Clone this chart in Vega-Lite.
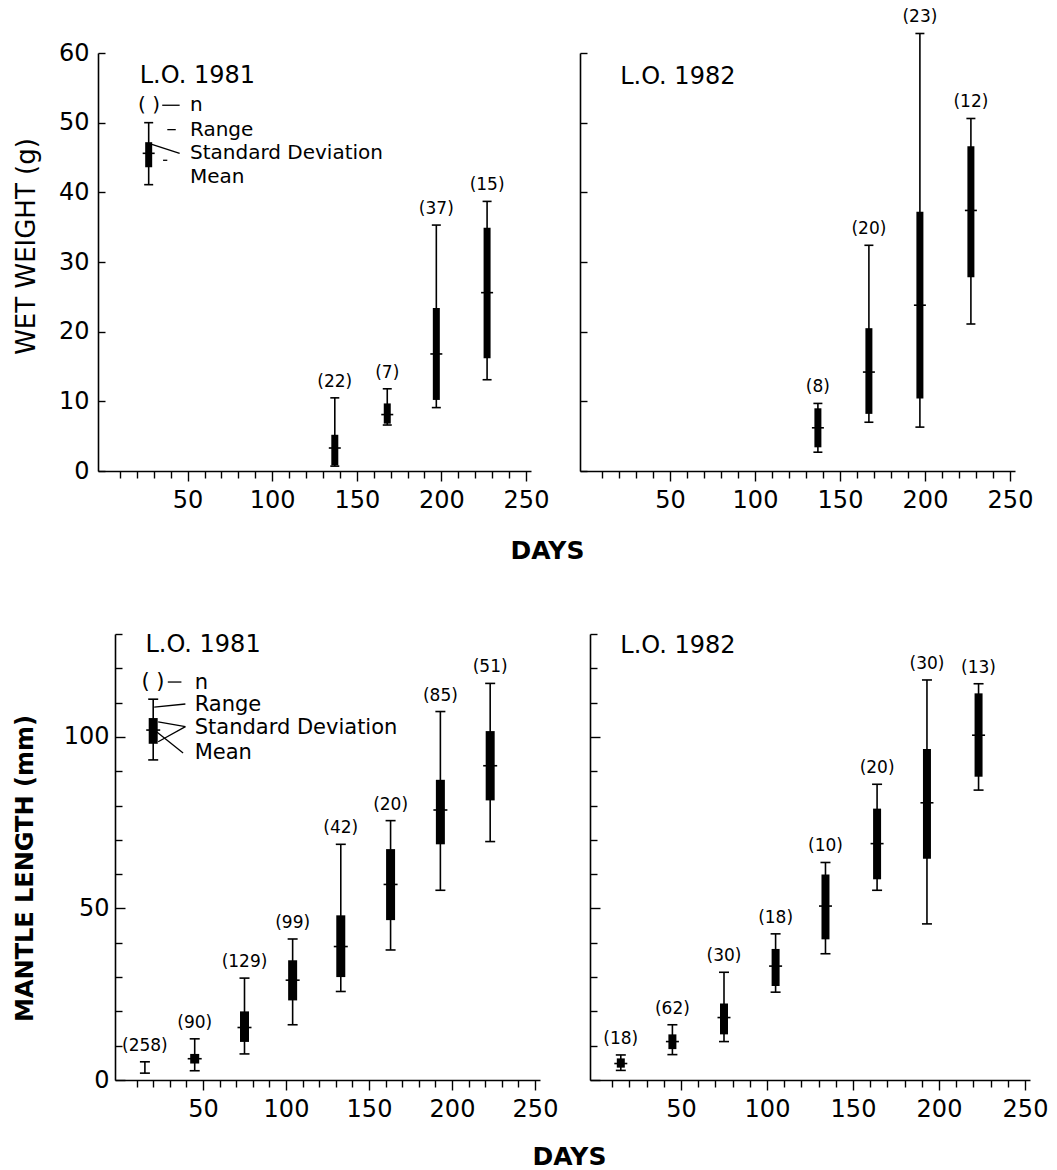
{
  "$schema": "https://vega.github.io/schema/vega-lite/v6.json",
  "background": "white",
  "padding": {"left": 12, "top": 8, "right": 4, "bottom": 2},
  "config": {
    "view": {"stroke": null},
    "font": "DejaVu Sans",
    "axis": {"grid": false, "domainColor": "black", "tickColor": "black", "labelColor": "black", "titleColor": "black", "labelFont": "DejaVu Sans", "titleFont": "DejaVu Sans", "domainWidth": 1.6, "tickWidth": 1.4, "labelFlush": false, "labelOverlap": false, "labelBound": false},
    "text": {"font": "DejaVu Sans", "color": "black"}
  },
  "datasets": {
    "stats": [
      {"p": "W81", "day": 27, "lo": 41.1, "hi": 50.0, "sdlo": 43.6, "sdhi": 47.2, "mean": 45.6, "n": ""},
      {"p": "W81", "day": 137, "lo": 0.7, "hi": 10.5, "sdlo": 0.8, "sdhi": 5.2, "mean": 3.3, "n": "(22)"},
      {"p": "W81", "day": 168, "lo": 6.6, "hi": 11.8, "sdlo": 6.8, "sdhi": 9.7, "mean": 8.1, "n": "(7)"},
      {"p": "W81", "day": 197, "lo": 9.1, "hi": 35.3, "sdlo": 10.2, "sdhi": 23.4, "mean": 16.8, "n": "(37)"},
      {"p": "W81", "day": 227, "lo": 13.1, "hi": 38.7, "sdlo": 16.2, "sdhi": 34.9, "mean": 25.6, "n": "(15)"},
      {"p": "W82", "day": 137, "lo": 2.7, "hi": 9.7, "sdlo": 3.4, "sdhi": 9.0, "mean": 6.2, "n": "(8)"},
      {"p": "W82", "day": 167, "lo": 7.0, "hi": 32.4, "sdlo": 8.2, "sdhi": 20.5, "mean": 14.2, "n": "(20)"},
      {"p": "W82", "day": 197, "lo": 6.3, "hi": 62.8, "sdlo": 10.4, "sdhi": 37.2, "mean": 23.8, "n": "(23)"},
      {"p": "W82", "day": 227, "lo": 21.1, "hi": 50.6, "sdlo": 27.8, "sdhi": 46.6, "mean": 37.4, "n": "(12)"},
      {"p": "M81", "day": 20, "lo": 93.3, "hi": 111.0, "sdlo": 98.0, "sdhi": 105.5, "mean": 102.0, "n": ""},
      {"p": "M81", "day": 15, "lo": 2.0, "hi": 5.3, "sdlo": null, "sdhi": null, "mean": null, "n": "(258)"},
      {"p": "M81", "day": 45, "lo": 2.7, "hi": 12.0, "sdlo": 4.8, "sdhi": 7.6, "mean": 6.2, "n": "(90)"},
      {"p": "M81", "day": 75, "lo": 7.6, "hi": 29.7, "sdlo": 11.1, "sdhi": 20.0, "mean": 15.3, "n": "(129)"},
      {"p": "M81", "day": 104, "lo": 16.1, "hi": 41.1, "sdlo": 23.2, "sdhi": 34.9, "mean": 29.1, "n": "(99)"},
      {"p": "M81", "day": 133, "lo": 25.8, "hi": 68.7, "sdlo": 30.0, "sdhi": 48.0, "mean": 38.9, "n": "(42)"},
      {"p": "M81", "day": 163, "lo": 37.9, "hi": 75.6, "sdlo": 46.6, "sdhi": 67.3, "mean": 57.0, "n": "(20)"},
      {"p": "M81", "day": 193, "lo": 55.3, "hi": 107.4, "sdlo": 68.7, "sdhi": 87.5, "mean": 78.7, "n": "(85)"},
      {"p": "M81", "day": 223, "lo": 69.5, "hi": 115.6, "sdlo": 81.5, "sdhi": 101.7, "mean": 91.6, "n": "(51)"},
      {"p": "M82", "day": 15, "lo": 2.8, "hi": 7.3, "sdlo": 3.6, "sdhi": 6.3, "mean": 4.8, "n": "(18)"},
      {"p": "M82", "day": 45, "lo": 7.4, "hi": 16.1, "sdlo": 9.0, "sdhi": 13.3, "mean": 11.2, "n": "(62)"},
      {"p": "M82", "day": 75, "lo": 11.2, "hi": 31.4, "sdlo": 13.3, "sdhi": 22.3, "mean": 18.2, "n": "(30)"},
      {"p": "M82", "day": 105, "lo": 25.6, "hi": 42.6, "sdlo": 27.4, "sdhi": 38.2, "mean": 33.2, "n": "(18)"},
      {"p": "M82", "day": 134, "lo": 36.8, "hi": 63.4, "sdlo": 41.0, "sdhi": 59.9, "mean": 50.7, "n": "(10)"},
      {"p": "M82", "day": 164, "lo": 55.3, "hi": 86.2, "sdlo": 58.5, "sdhi": 79.1, "mean": 68.9, "n": "(20)"},
      {"p": "M82", "day": 193, "lo": 45.5, "hi": 116.6, "sdlo": 64.5, "sdhi": 96.5, "mean": 80.8, "n": "(30)"},
      {"p": "M82", "day": 223, "lo": 84.5, "hi": 115.5, "sdlo": 88.4, "sdhi": 112.7, "mean": 100.5, "n": "(13)"}
    ],
    "notes": [
      {"p": "W81", "kind": "title", "day": 21.7, "val": 55.7, "text": "L.O. 1981"},
      {"p": "W81", "kind": "key", "day": 20.7, "val": 52.5, "text": "(   )"},
      {"p": "W81", "kind": "key", "day": 51.4, "val": 52.5, "text": "n"},
      {"p": "W81", "kind": "key", "day": 51.4, "val": 49.0, "text": "Range"},
      {"p": "W81", "kind": "key", "day": 51.4, "val": 45.6, "text": "Standard Deviation"},
      {"p": "W81", "kind": "key", "day": 51.4, "val": 42.2, "text": "Mean"},
      {"p": "W82", "kind": "title", "day": 20.7, "val": 55.6, "text": "L.O. 1982"},
      {"p": "M81", "kind": "title", "day": 15.3, "val": 124.7, "text": "L.O. 1981"},
      {"p": "M81", "kind": "key", "day": 12.9, "val": 116.0, "text": "(   )"},
      {"p": "M81", "kind": "key", "day": 45, "val": 115.7, "text": "n"},
      {"p": "M81", "kind": "key", "day": 45, "val": 109.4, "text": "Range"},
      {"p": "M81", "kind": "key", "day": 45, "val": 102.7, "text": "Standard Deviation"},
      {"p": "M81", "kind": "key", "day": 45, "val": 95.3, "text": "Mean"},
      {"p": "M82", "kind": "title", "day": 14.7, "val": 124.6, "text": "L.O. 1982"}
    ],
    "leaders": [
      {"p": "W81", "d1": 35, "v1": 52.5, "d2": 45.3, "v2": 52.5},
      {"p": "W81", "d1": 38, "v1": 49, "d2": 43, "v2": 49},
      {"p": "W81", "d1": 28.9, "v1": 46.9, "d2": 45.3, "v2": 45.6},
      {"p": "W81", "d1": 35.5, "v1": 44.6, "d2": 38, "v2": 44.6},
      {"p": "M81", "d1": 28.8, "v1": 116, "d2": 37, "v2": 116},
      {"p": "M81", "d1": 20.6, "v1": 108.7, "d2": 39.4, "v2": 109.6},
      {"p": "M81", "d1": 23, "v1": 104.4, "d2": 39.4, "v2": 103},
      {"p": "M81", "d1": 23, "v1": 98.6, "d2": 39.4, "v2": 103},
      {"p": "M81", "d1": 22, "v1": 101.5, "d2": 38, "v2": 95.3}
    ]
  },
  "spacing": 59,
  "vconcat": [
    {
      "bounds": "flush",
      "spacing": 49,
      "hconcat": [
        {
          "width": 433, "height": 418,
          "data": {"name": "stats"},
          "transform": [{"filter": "datum.p === 'W81'"}],
          "resolve": {"axis": {"x": "independent", "y": "independent"}},
          "layer": [
            {"mark": {"type": "rule", "color": "black", "strokeWidth": 1.6},
             "encoding": {
               "x": {"field": "day", "type": "quantitative", "scale": {"domain": [0, 250], "nice": false, "zero": false},
                 "axis": {"values": [10,20,30,40,50,60,70,80,90,100,110,120,130,140,150,160,170,180,190,200,210,220,230,240,250],
                   "labelExpr": "datum.value % 50 === 0 ? datum.label : ''",
                   "tickSize": {"condition": {"test": "datum.value % 50 === 0", "value": 10}, "value": 7},
                   "labelFontSize": 24, "labelPadding": 7,
                   "title": "DAYS", "titleFontSize": 25, "titleFontWeight": "bold", "titleX": 449, "titleY": 87, "titleBaseline": "alphabetic", "titleAlign": "center"}},
               "y": {"field": "lo", "type": "quantitative", "scale": {"domain": [0, 60], "nice": false, "zero": false},
                 "axis": {"values": [0,10,20,30,40,50,60], "tickSize": -7, "labelFontSize": 24, "labelPadding": 16,
                   "title": "WET WEIGHT (g)", "titleFontSize": 26, "titleFontWeight": "normal", "titleX": -72, "titleY": 193, "titleAngle": -90, "titleBaseline": "middle", "titleAlign": "center"}},
               "y2": {"field": "hi"}}},
            {"mark": {"type": "tick", "orient": "horizontal", "size": 9, "thickness": 1.6, "color": "black", "opacity": 1},
             "encoding": {"x": {"field": "day", "type": "quantitative", "scale": {"domain": [0, 250], "nice": false, "zero": false}, "axis": null},
               "y": {"field": "hi", "type": "quantitative", "scale": {"domain": [0, 60], "nice": false, "zero": false}, "axis": null}}},
            {"mark": {"type": "tick", "orient": "horizontal", "size": 9, "thickness": 1.6, "color": "black", "opacity": 1},
             "encoding": {"x": {"field": "day", "type": "quantitative", "scale": {"domain": [0, 250], "nice": false, "zero": false}, "axis": null},
               "y": {"field": "lo", "type": "quantitative", "scale": {"domain": [0, 60], "nice": false, "zero": false}, "axis": null}}},
            {"mark": {"type": "bar", "size": 7, "color": "black", "opacity": 1},
             "encoding": {"x": {"field": "day", "type": "quantitative", "scale": {"domain": [0, 250], "nice": false, "zero": false}, "axis": null},
               "y": {"field": "sdlo", "type": "quantitative", "scale": {"domain": [0, 60], "nice": false, "zero": false}, "axis": null},
               "y2": {"field": "sdhi"}}},
            {"mark": {"type": "tick", "orient": "horizontal", "size": 12, "thickness": 1.6, "color": "black", "opacity": 1},
             "encoding": {"x": {"field": "day", "type": "quantitative", "scale": {"domain": [0, 250], "nice": false, "zero": false}, "axis": null},
               "y": {"field": "mean", "type": "quantitative", "scale": {"domain": [0, 60], "nice": false, "zero": false}, "axis": null}}},
            {"mark": {"type": "text", "baseline": "alphabetic", "align": "center", "dy": -11, "fontSize": 17},
             "encoding": {"x": {"field": "day", "type": "quantitative", "scale": {"domain": [0, 250], "nice": false, "zero": false}, "axis": null},
               "y": {"field": "hi", "type": "quantitative", "scale": {"domain": [0, 60], "nice": false, "zero": false}, "axis": null},
               "text": {"field": "n"}}},
            {"data": {"name": "notes"}, "transform": [{"filter": "datum.p === 'W81' && datum.kind === 'title'"}],
             "mark": {"type": "text", "align": "left", "baseline": "alphabetic", "fontSize": 24},
             "encoding": {"x": {"field": "day", "type": "quantitative", "scale": {"domain": [0, 250], "nice": false, "zero": false}, "axis": null},
               "y": {"field": "val", "type": "quantitative", "scale": {"domain": [0, 60], "nice": false, "zero": false}, "axis": null},
               "text": {"field": "text"}}},
            {"data": {"name": "notes"}, "transform": [{"filter": "datum.p === 'W81' && datum.kind === 'key'"}],
             "mark": {"type": "text", "align": "left", "baseline": "middle", "fontSize": 20},
             "encoding": {"x": {"field": "day", "type": "quantitative", "scale": {"domain": [0, 250], "nice": false, "zero": false}, "axis": null},
               "y": {"field": "val", "type": "quantitative", "scale": {"domain": [0, 60], "nice": false, "zero": false}, "axis": null},
               "text": {"field": "text"}}},
            {"data": {"name": "leaders"}, "transform": [{"filter": "datum.p === 'W81'"}],
             "mark": {"type": "rule", "color": "black", "strokeWidth": 1.3},
             "encoding": {"x": {"field": "d1", "type": "quantitative", "scale": {"domain": [0, 250], "nice": false, "zero": false}, "axis": null},
               "x2": {"field": "d2"},
               "y": {"field": "v1", "type": "quantitative", "scale": {"domain": [0, 60], "nice": false, "zero": false}, "axis": null},
               "y2": {"field": "v2"}}}
          ]
        },
        {
          "width": 435, "height": 418,
          "data": {"name": "stats"},
          "transform": [{"filter": "datum.p === 'W82'"}],
          "resolve": {"axis": {"x": "independent", "y": "independent"}},
          "layer": [
            {"mark": {"type": "rule", "color": "black", "strokeWidth": 1.6},
             "encoding": {
               "x": {"field": "day", "type": "quantitative", "scale": {"domain": [0, 250], "nice": false, "zero": false},
                 "axis": {"values": [10,20,30,40,50,60,70,80,90,100,110,120,130,140,150,160,170,180,190,200,210,220,230,240,250],
                   "labelExpr": "datum.value % 50 === 0 ? datum.label : ''",
                   "tickSize": {"condition": {"test": "datum.value % 50 === 0", "value": 10}, "value": 7},
                   "labelFontSize": 24, "labelPadding": 7, "title": null}},
               "y": {"field": "lo", "type": "quantitative", "scale": {"domain": [0, 60], "nice": false, "zero": false},
                 "axis": {"values": [0,10,20,30,40,50,60], "tickSize": -7, "labels": false, "title": null}},
               "y2": {"field": "hi"}}},
            {"mark": {"type": "tick", "orient": "horizontal", "size": 9, "thickness": 1.6, "color": "black", "opacity": 1},
             "encoding": {"x": {"field": "day", "type": "quantitative", "scale": {"domain": [0, 250], "nice": false, "zero": false}, "axis": null},
               "y": {"field": "hi", "type": "quantitative", "scale": {"domain": [0, 60], "nice": false, "zero": false}, "axis": null}}},
            {"mark": {"type": "tick", "orient": "horizontal", "size": 9, "thickness": 1.6, "color": "black", "opacity": 1},
             "encoding": {"x": {"field": "day", "type": "quantitative", "scale": {"domain": [0, 250], "nice": false, "zero": false}, "axis": null},
               "y": {"field": "lo", "type": "quantitative", "scale": {"domain": [0, 60], "nice": false, "zero": false}, "axis": null}}},
            {"mark": {"type": "bar", "size": 7, "color": "black", "opacity": 1},
             "encoding": {"x": {"field": "day", "type": "quantitative", "scale": {"domain": [0, 250], "nice": false, "zero": false}, "axis": null},
               "y": {"field": "sdlo", "type": "quantitative", "scale": {"domain": [0, 60], "nice": false, "zero": false}, "axis": null},
               "y2": {"field": "sdhi"}}},
            {"mark": {"type": "tick", "orient": "horizontal", "size": 12, "thickness": 1.6, "color": "black", "opacity": 1},
             "encoding": {"x": {"field": "day", "type": "quantitative", "scale": {"domain": [0, 250], "nice": false, "zero": false}, "axis": null},
               "y": {"field": "mean", "type": "quantitative", "scale": {"domain": [0, 60], "nice": false, "zero": false}, "axis": null}}},
            {"mark": {"type": "text", "baseline": "alphabetic", "align": "center", "dy": -11, "fontSize": 17},
             "encoding": {"x": {"field": "day", "type": "quantitative", "scale": {"domain": [0, 250], "nice": false, "zero": false}, "axis": null},
               "y": {"field": "hi", "type": "quantitative", "scale": {"domain": [0, 60], "nice": false, "zero": false}, "axis": null},
               "text": {"field": "n"}}},
            {"data": {"name": "notes"}, "transform": [{"filter": "datum.p === 'W82' && datum.kind === 'title'"}],
             "mark": {"type": "text", "align": "left", "baseline": "alphabetic", "fontSize": 24},
             "encoding": {"x": {"field": "day", "type": "quantitative", "scale": {"domain": [0, 250], "nice": false, "zero": false}, "axis": null},
               "y": {"field": "val", "type": "quantitative", "scale": {"domain": [0, 60], "nice": false, "zero": false}, "axis": null},
               "text": {"field": "text"}}}
          ]
        }
      ]
    },
    {
      "bounds": "flush",
      "spacing": 50,
      "hconcat": [
        {
          "width": 442, "height": 446,
          "data": {"name": "stats"},
          "transform": [{"filter": "datum.p === 'M81'"}],
          "resolve": {"axis": {"x": "independent", "y": "independent"}},
          "layer": [
            {"mark": {"type": "rule", "color": "black", "strokeWidth": 1.6},
             "encoding": {
               "x": {"field": "day", "type": "quantitative", "scale": {"domain": [0, 250], "range": [17, 442], "nice": false, "zero": false},
                 "axis": {"values": [10,20,30,40,50,60,70,80,90,100,110,120,130,140,150,160,170,180,190,200,210,220,230,240,250],
                   "labelExpr": "datum.value % 50 === 0 ? datum.label : ''",
                   "tickSize": {"condition": {"test": "datum.value % 50 === 0", "value": 10}, "value": 7},
                   "labelFontSize": 24, "labelPadding": 7,
                   "title": "DAYS", "titleFontSize": 25, "titleFontWeight": "bold", "titleX": 471, "titleY": 84, "titleBaseline": "alphabetic", "titleAlign": "center"}},
               "y": {"field": "lo", "type": "quantitative", "scale": {"domain": [0, 130], "nice": false, "zero": false},
                 "axis": {"values": [0,10,20,30,40,50,60,70,80,90,100,110,120,130], "offset": -17,
                   "labelExpr": "datum.value % 50 === 0 ? datum.label : ''",
                   "tickSize": {"condition": {"test": "datum.value % 50 === 0", "value": -10}, "value": -7},
                   "labelFontSize": 24, "labelPadding": 16,
                   "title": "MANTLE LENGTH (mm)", "titleFontSize": 24, "titleFontWeight": "bold", "titleX": -90, "titleY": 234, "titleAngle": -90, "titleBaseline": "middle", "titleAlign": "center"}},
               "y2": {"field": "hi"}}},
            {"mark": {"type": "tick", "orient": "horizontal", "size": 10, "thickness": 1.6, "color": "black", "opacity": 1},
             "encoding": {"x": {"field": "day", "type": "quantitative", "scale": {"domain": [0, 250], "range": [17, 442], "nice": false, "zero": false}, "axis": null},
               "y": {"field": "hi", "type": "quantitative", "scale": {"domain": [0, 130], "nice": false, "zero": false}, "axis": null}}},
            {"mark": {"type": "tick", "orient": "horizontal", "size": 10, "thickness": 1.6, "color": "black", "opacity": 1},
             "encoding": {"x": {"field": "day", "type": "quantitative", "scale": {"domain": [0, 250], "range": [17, 442], "nice": false, "zero": false}, "axis": null},
               "y": {"field": "lo", "type": "quantitative", "scale": {"domain": [0, 130], "nice": false, "zero": false}, "axis": null}}},
            {"mark": {"type": "bar", "size": 9, "color": "black", "opacity": 1},
             "encoding": {"x": {"field": "day", "type": "quantitative", "scale": {"domain": [0, 250], "range": [17, 442], "nice": false, "zero": false}, "axis": null},
               "y": {"field": "sdlo", "type": "quantitative", "scale": {"domain": [0, 130], "nice": false, "zero": false}, "axis": null},
               "y2": {"field": "sdhi"}}},
            {"mark": {"type": "tick", "orient": "horizontal", "size": 14, "thickness": 1.6, "color": "black", "opacity": 1},
             "encoding": {"x": {"field": "day", "type": "quantitative", "scale": {"domain": [0, 250], "range": [17, 442], "nice": false, "zero": false}, "axis": null},
               "y": {"field": "mean", "type": "quantitative", "scale": {"domain": [0, 130], "nice": false, "zero": false}, "axis": null}}},
            {"mark": {"type": "text", "baseline": "alphabetic", "align": "center", "dy": -11, "fontSize": 17},
             "encoding": {"x": {"field": "day", "type": "quantitative", "scale": {"domain": [0, 250], "range": [17, 442], "nice": false, "zero": false}, "axis": null},
               "y": {"field": "hi", "type": "quantitative", "scale": {"domain": [0, 130], "nice": false, "zero": false}, "axis": null},
               "text": {"field": "n"}}},
            {"data": {"name": "notes"}, "transform": [{"filter": "datum.p === 'M81' && datum.kind === 'title'"}],
             "mark": {"type": "text", "align": "left", "baseline": "alphabetic", "fontSize": 24},
             "encoding": {"x": {"field": "day", "type": "quantitative", "scale": {"domain": [0, 250], "range": [17, 442], "nice": false, "zero": false}, "axis": null},
               "y": {"field": "val", "type": "quantitative", "scale": {"domain": [0, 130], "nice": false, "zero": false}, "axis": null},
               "text": {"field": "text"}}},
            {"data": {"name": "notes"}, "transform": [{"filter": "datum.p === 'M81' && datum.kind === 'key'"}],
             "mark": {"type": "text", "align": "left", "baseline": "middle", "fontSize": 21},
             "encoding": {"x": {"field": "day", "type": "quantitative", "scale": {"domain": [0, 250], "range": [17, 442], "nice": false, "zero": false}, "axis": null},
               "y": {"field": "val", "type": "quantitative", "scale": {"domain": [0, 130], "nice": false, "zero": false}, "axis": null},
               "text": {"field": "text"}}},
            {"data": {"name": "leaders"}, "transform": [{"filter": "datum.p === 'M81'"}],
             "mark": {"type": "rule", "color": "black", "strokeWidth": 1.3},
             "encoding": {"x": {"field": "d1", "type": "quantitative", "scale": {"domain": [0, 250], "range": [17, 442], "nice": false, "zero": false}, "axis": null},
               "x2": {"field": "d2"},
               "y": {"field": "v1", "type": "quantitative", "scale": {"domain": [0, 130], "nice": false, "zero": false}, "axis": null},
               "y2": {"field": "v2"}}}
          ]
        },
        {
          "width": 440, "height": 446,
          "data": {"name": "stats"},
          "transform": [{"filter": "datum.p === 'M82'"}],
          "resolve": {"axis": {"x": "independent", "y": "independent"}},
          "layer": [
            {"mark": {"type": "rule", "color": "black", "strokeWidth": 1.6},
             "encoding": {
               "x": {"field": "day", "type": "quantitative", "scale": {"domain": [0, 250], "nice": false, "zero": false},
                 "axis": {"values": [10,20,30,40,50,60,70,80,90,100,110,120,130,140,150,160,170,180,190,200,210,220,230,240,250],
                   "labelExpr": "datum.value % 50 === 0 ? datum.label : ''",
                   "tickSize": {"condition": {"test": "datum.value % 50 === 0", "value": 10}, "value": 7},
                   "labelFontSize": 24, "labelPadding": 7, "title": null}},
               "y": {"field": "lo", "type": "quantitative", "scale": {"domain": [0, 130], "nice": false, "zero": false},
                 "axis": {"values": [0,10,20,30,40,50,60,70,80,90,100,110,120,130],
                   "tickSize": {"condition": {"test": "datum.value % 50 === 0", "value": -10}, "value": -7},
                   "labels": false, "title": null}},
               "y2": {"field": "hi"}}},
            {"mark": {"type": "tick", "orient": "horizontal", "size": 10, "thickness": 1.6, "color": "black", "opacity": 1},
             "encoding": {"x": {"field": "day", "type": "quantitative", "scale": {"domain": [0, 250], "nice": false, "zero": false}, "axis": null},
               "y": {"field": "hi", "type": "quantitative", "scale": {"domain": [0, 130], "nice": false, "zero": false}, "axis": null}}},
            {"mark": {"type": "tick", "orient": "horizontal", "size": 10, "thickness": 1.6, "color": "black", "opacity": 1},
             "encoding": {"x": {"field": "day", "type": "quantitative", "scale": {"domain": [0, 250], "nice": false, "zero": false}, "axis": null},
               "y": {"field": "lo", "type": "quantitative", "scale": {"domain": [0, 130], "nice": false, "zero": false}, "axis": null}}},
            {"mark": {"type": "bar", "size": 8, "color": "black", "opacity": 1},
             "encoding": {"x": {"field": "day", "type": "quantitative", "scale": {"domain": [0, 250], "nice": false, "zero": false}, "axis": null},
               "y": {"field": "sdlo", "type": "quantitative", "scale": {"domain": [0, 130], "nice": false, "zero": false}, "axis": null},
               "y2": {"field": "sdhi"}}},
            {"mark": {"type": "tick", "orient": "horizontal", "size": 13, "thickness": 1.6, "color": "black", "opacity": 1},
             "encoding": {"x": {"field": "day", "type": "quantitative", "scale": {"domain": [0, 250], "nice": false, "zero": false}, "axis": null},
               "y": {"field": "mean", "type": "quantitative", "scale": {"domain": [0, 130], "nice": false, "zero": false}, "axis": null}}},
            {"mark": {"type": "text", "baseline": "alphabetic", "align": "center", "dy": -11, "fontSize": 17},
             "encoding": {"x": {"field": "day", "type": "quantitative", "scale": {"domain": [0, 250], "nice": false, "zero": false}, "axis": null},
               "y": {"field": "hi", "type": "quantitative", "scale": {"domain": [0, 130], "nice": false, "zero": false}, "axis": null},
               "text": {"field": "n"}}},
            {"data": {"name": "notes"}, "transform": [{"filter": "datum.p === 'M82' && datum.kind === 'title'"}],
             "mark": {"type": "text", "align": "left", "baseline": "alphabetic", "fontSize": 24},
             "encoding": {"x": {"field": "day", "type": "quantitative", "scale": {"domain": [0, 250], "nice": false, "zero": false}, "axis": null},
               "y": {"field": "val", "type": "quantitative", "scale": {"domain": [0, 130], "nice": false, "zero": false}, "axis": null},
               "text": {"field": "text"}}}
          ]
        }
      ]
    }
  ]
}
